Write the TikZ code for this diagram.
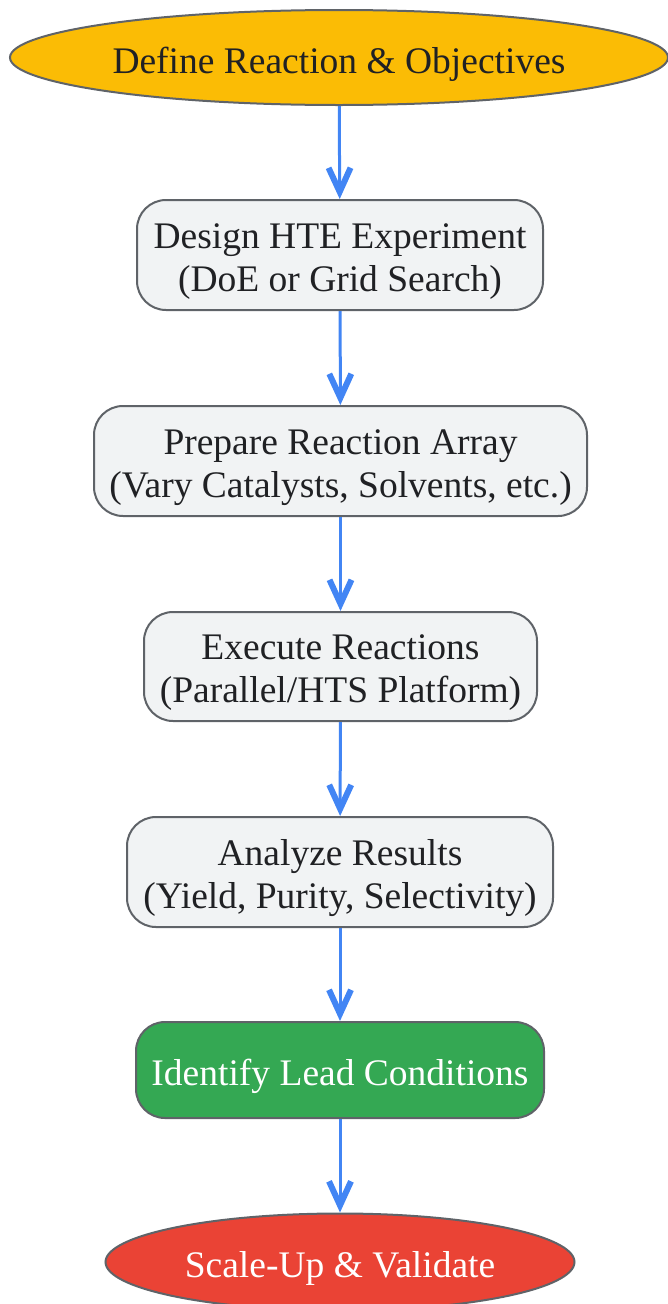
\documentclass[tikz,border=0pt]{standalone}
\usepackage{fontspec}
\setmainfont{Liberation Serif}
\usetikzlibrary{arrows.meta,shapes.geometric}
\definecolor{ylw}{HTML}{FBBC05}
\definecolor{grn}{HTML}{34A853}
\definecolor{rd}{HTML}{EA4335}
\definecolor{boxfill}{HTML}{F1F3F4}
\definecolor{bordergray}{HTML}{5F6368}
\definecolor{arrowblue}{HTML}{4285F4}
\definecolor{txt}{HTML}{202124}
\begin{document}
\begin{tikzpicture}[x=1pt,y=-1pt,
  base/.style={draw=bordergray, line width=2pt, inner sep=0pt},
  lbl/.style={font=\fontsize{37.5}{43}\selectfont, text=txt, align=center, inner sep=0pt, yshift=-6.5pt},
  wlbl/.style={lbl, text=white},
  proc/.style={base, rectangle, rounded corners=29pt, fill=boxfill},
  term/.style={base, ellipse},
  flow/.style={draw=arrowblue, line width=3pt, -{Straight Barb[length=24pt,width=22pt,line width=6pt]}}]
\useasboundingbox (0,0) rectangle (668,1304);
\node[term, fill=ylw, minimum width=658pt, minimum height=95pt,
  label={[lbl]center:Define Reaction \& Objectives}] (n1) at (339,57.5) {};
\node[proc, minimum width=406pt, minimum height=110pt,
  label={[lbl]center:{Design HTE Experiment\\(DoE or Grid Search)}}] (n2) at (340,255) {};
\node[proc, minimum width=493pt, minimum height=110pt,
  label={[lbl]center:{Prepare Reaction Array\\(Vary Catalysts, Solvents, etc.)}}] (n3) at (340.5,461) {};
\node[proc, minimum width=393pt, minimum height=109pt,
  label={[lbl]center:{Execute Reactions\\(Parallel/HTS Platform)}}] (n4) at (340.5,666.5) {};
\node[proc, minimum width=426pt, minimum height=110pt,
  label={[lbl]center:{Analyze Results\\(Yield, Purity, Selectivity)}}] (n5) at (340,872) {};
\node[proc, fill=grn, minimum width=408pt, minimum height=96pt,
  label={[wlbl]center:Identify Lead Conditions}] (n6) at (340,1070) {};
\node[term, fill=rd, minimum width=469pt, minimum height=97pt,
  label={[wlbl]center:Scale-Up \& Validate}] (n7) at (340,1262) {};
\draw[flow] (n1) -- (n2);
\draw[flow] (n2) -- (n3);
\draw[flow] (n3) -- (n4);
\draw[flow] (n4) -- (n5);
\draw[flow] (n5) -- (n6);
\draw[flow] (n6) -- (n7);
\end{tikzpicture}
\end{document}
